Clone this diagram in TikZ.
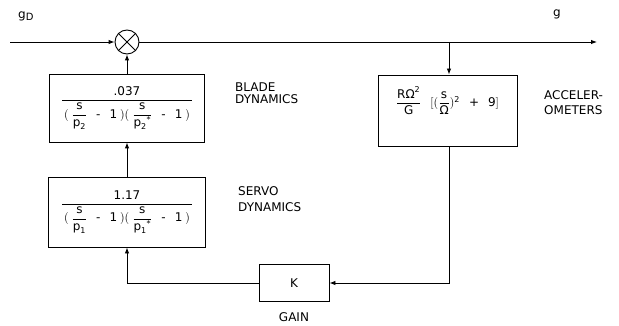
\documentclass[tikz,border=0pt]{standalone}
\usepackage{amsmath}
\usepackage{fontspec}
\setmainfont{DejaVu Sans}
\usetikzlibrary{arrows.meta}
\newcommand{\myfr}[2]{\genfrac{}{}{0.5pt}{0}{#1}{#2}}
\newcommand{\tx}[1]{\text{#1}}
\newcommand{\gp}{\hspace{9pt}}
\newcommand{\gs}{\hspace{3pt}}
\begin{document}
\begin{tikzpicture}[x=1pt,y=-1pt,
  blk/.style={draw, line width=0.9pt, inner sep=0pt, font=\fontsize{12}{14}\selectfont},
  eq/.style={inner sep=0pt, font=\fontsize{12}{14}\selectfont},
  lbl/.style={font=\fontsize{12}{12}\selectfont, align=left, anchor=west, inner sep=0pt},
  conn/.style={line width=0.9pt, -{Latex[length=6pt,width=4.5pt]}},
  wire/.style={line width=0.9pt}]
\useasboundingbox (0,0) rectangle (619,326);

% summing junction
\node[circle, draw, line width=0.9pt, minimum size=24pt, inner sep=0pt] (sum) at (127,42) {};
\draw[wire] (sum.45) -- (sum.225);
\draw[wire] (sum.135) -- (sum.315);

% blocks
\node[blk, minimum width=155pt, minimum height=68pt] (blade) at (127,108)
  {$\genfrac{}{}{0.7pt}{0}{\tx{.037}}{\,(\gs\myfr{\tx{s}}{\tx{p}_{\tx{2}}}\gp\tx{-}\gp\tx{1}\gs)(\gs\myfr{\tx{s}}{\tx{p}_{\tx{2}}{}^{\tx{*}}}\gp\tx{-}\gp\tx{1}\gs)\,}$};
\node[blk, minimum width=157pt, minimum height=70pt] (servo) at (127,212)
  {$\genfrac{}{}{0.7pt}{0}{\tx{1.17}}{\,(\gs\myfr{\tx{s}}{\tx{p}_{\tx{1}}}\gp\tx{-}\gp\tx{1}\gs)(\gs\myfr{\tx{s}}{\tx{p}_{\tx{1}}{}^{\tx{*}}}\gp\tx{-}\gp\tx{1}\gs)\,}$};
\node[blk, minimum width=139pt, minimum height=71pt] (acc) at (447.5,110.5) {};
\node[eq] (acceq) at (447.5,101)
  {$\myfr{\tx{RΩ}^{\tx{2}}}{\tx{G}}\gp[(\myfr{\tx{s}}{\tx{Ω}})^{\tx{2}}\gp\tx{+}\gp\tx{9}]$};
\node[blk, minimum width=70pt, minimum height=37pt] (gain) at (294,283) {K};

% labels
\node[lbl] (gD) at (18,16) {g\raisebox{-2.5pt}{\fontsize{10}{10}\selectfont D}};
\node[lbl] (gout) at (553,14) {g};
\node[lbl] (bladelbl) at (235,93) {BLADE\\DYNAMICS};
\node[lbl, font=\fontsize{12}{16}\selectfont] (servolbl) at (238,199) {SERVO\\DYNAMICS};
\node[lbl, font=\fontsize{12}{15}\selectfont] (acclbl) at (544,102.5) {ACCELER-\\OMETERS};
\node[font=\fontsize{12}{14}\selectfont, inner sep=0pt] (gainlbl) at (294,317) {GAIN};

% connectors
\coordinate (in) at (10,42);
\coordinate (out) at (597,42);
\coordinate (br) at (449,42);
\draw[conn] (in) -- (sum.west);
\draw[conn] (sum.east) -- (out);
\draw[conn] (br) -- (br |- acc.north);
\draw[conn] (acc.south -| br) |- (gain.east);
\draw[conn] (gain.west) -| (servo.south);
\draw[conn] (servo.north) -- (blade.south);
\draw[conn] (blade.north) -- (sum.south);
\end{tikzpicture}
\end{document}
